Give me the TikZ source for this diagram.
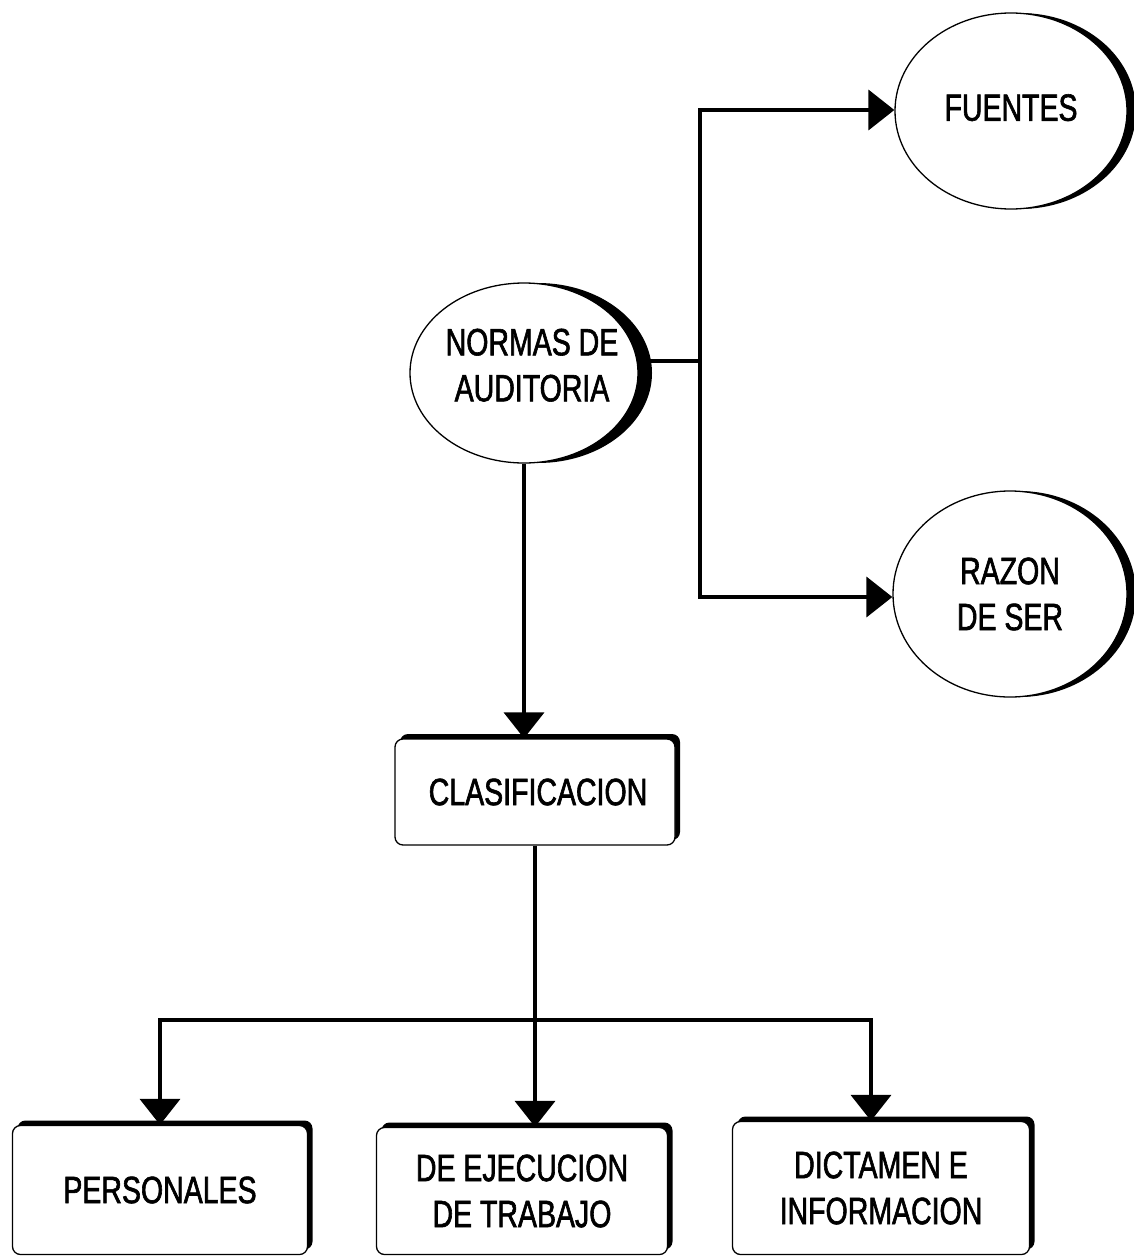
\documentclass[tikz,border=0pt]{standalone}
\usepackage{fontspec}
\setmainfont[FakeStretch=0.75, FakeBold=1.6]{Liberation Sans}
\usetikzlibrary{shapes.geometric,shadows,arrows.meta,calc}
\begin{document}
\begin{tikzpicture}[x=1pt,y=-1pt,
  every node/.style={font=\fontsize{38}{46}\selectfont, align=center, inner sep=0pt},
  oval/.style={ellipse, draw=black, line width=1.3pt, fill=white, inner xsep=-20pt, inner ysep=-10pt,
    general shadow={fill=black, shadow xshift=#1}},
  oval/.default=10pt,
  tbox/.style={rectangle, rounded corners=8pt, draw=black, line width=1.3pt, fill=white,
    general shadow={fill=black, shadow xshift=5pt, shadow yshift=5pt}},
  conn/.style={line width=4pt, line cap=rect},
  arr/.style={line width=4pt, -{Triangle[length=26pt,width=40pt]}}
]
\useasboundingbox[fill=white] (0,0) rectangle (1134,1258);

% nodes
\node[oval=14pt, minimum width=228pt, minimum height=180pt] (N) at (524,373)
  {\fontsize{38}{48}\selectfont \hspace*{16pt}NORMAS DE\\\hspace*{16pt}AUDITORIA\\[-30pt]\mbox{}};
\node[oval=9pt, minimum width=232pt, minimum height=196pt] (F) at (1011,111) {\raisebox{7pt}{FUENTES}};
\node[oval=9pt, minimum width=234pt, minimum height=206pt] (R) at (1010,594)
  {\fontsize{38}{47}\selectfont RAZON\\DE SER};
\node[tbox, minimum width=280pt, minimum height=106pt] (C) at (535,792) {\hspace*{6pt}CLASIFICACION};
\node[tbox, minimum width=295pt, minimum height=129pt] (P) at (160,1190) {PERSONALES};
\node[tbox, minimum width=291pt, minimum height=127pt] (E) at (522,1191)
  {\fontsize{38}{43}\selectfont DE EJECUCION\\DE TRABAJO};
\node[tbox, minimum width=297pt, minimum height=133pt] (D) at (881,1188)
  {\fontsize{38}{39}\selectfont DICTAMEN E\\INFORMACION};

% junctions
\coordinate (j) at (700,361);
\coordinate (jt) at (700,110);
\coordinate (jb) at (700,597);
\coordinate (busL) at (160,1020);
\coordinate (busR) at (871,1020);

% connectors
\draw[conn] (N.east |- j) -- (j);
\draw[conn] (jt) -- (jb);
\draw[arr] (jt) -- (F.west |- jt);
\draw[arr] (jb) -- (R.west |- jb);
\draw[arr] (N.south) -- (N.south |- C.north);
\draw[conn] (busL) -- (busR);
\draw[arr] (busL) -- (P.north);
\draw[arr] (C.south) -- (C.south |- E.north);
\draw[arr] (busR) -- (busR |- D.north);
\end{tikzpicture}
\end{document}
